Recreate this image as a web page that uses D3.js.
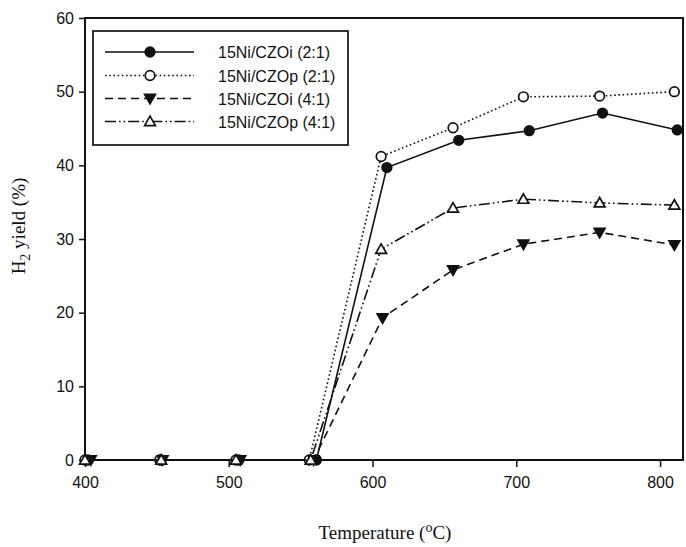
<!DOCTYPE html>
<html>
<head>
<meta charset="utf-8">
<script src="https://cdn.jsdelivr.net/npm/d3@7"></script>
<style>
  html, body { margin: 0; padding: 0; background: #fff; }
  svg { display: block; }
</style>
</head>
<body>
<svg id="chart" width="686" height="547"></svg>
<script>
// H2 yield vs reaction temperature for four Ni/CZO catalysts
const seriesNames = ["15Ni/CZOi (2:1)", "15Ni/CZOp (2:1)", "15Ni/CZOi (4:1)", "15Ni/CZOp (4:1)"];

const tempCZOi21 = [402, 453, 507, 561, 610, 660, 709, 760, 812];
const yieldCZOi21 = [0, 0, 0, 0, 39.7, 43.4, 44.7, 47.1, 44.8];

const tempCZOp21 = [400, 452, 505, 556, 606, 656, 705, 758, 810];
const yieldCZOp21 = [0, 0, 0, 0, 41.2, 45.1, 49.3, 49.4, 50.0];

const tempCZOi41 = [404, 454, 508, 559, 607, 656, 705, 758, 810];
const yieldCZOi41 = [0, 0, 0, 0, 19.3, 25.8, 29.3, 30.9, 29.2];

const tempCZOp41 = [400, 453, 505, 557, 606, 656, 705, 758, 810];
const yieldCZOp41 = [0, 0, 0, 0, 28.6, 34.2, 35.4, 34.9, 34.6];

const xTicks = [400, 500, 600, 700, 800];
const yTicks = [0, 10, 20, 30, 40, 50, 60];

const svg = d3.select("#chart");
const plotLeft = 85, plotRight = 683, plotTop = 18, plotBottom = 460;

const x = d3.scaleLinear().domain([400, 816]).range([plotLeft, plotRight]);
const y = d3.scaleLinear().domain([0, 60]).range([plotBottom, plotTop]);

const ink = "#111";
const sans = "Arial, 'Liberation Sans', Helvetica, sans-serif";
const serif = "'Times New Roman', 'Liberation Serif', Times, serif";

// series styling: line dash and marker type
const styles = [
  { dash: null, marker: "circle", fill: ink },
  { dash: "1.6,2.6", marker: "circle", fill: "#fff" },
  { dash: "8,5", marker: "tridown", fill: ink },
  { dash: "11,3,1.6,3,1.6,3", marker: "triup", fill: "#fff" }
];

const seriesData = [
  tempCZOi21.map((t, i) => [t, yieldCZOi21[i]]),
  tempCZOp21.map((t, i) => [t, yieldCZOp21[i]]),
  tempCZOi41.map((t, i) => [t, yieldCZOi41[i]]),
  tempCZOp41.map((t, i) => [t, yieldCZOp41[i]])
];

// axes
const xAxis = d3.axisBottom(x).tickValues(xTicks).tickSize(7).tickPadding(10).tickFormat(d3.format("d"));
const yAxis = d3.axisLeft(y).tickValues(yTicks).tickSize(6).tickPadding(5).tickFormat(d3.format("d"));

const gx = svg.append("g").attr("transform", `translate(0,${plotBottom})`).call(xAxis);
const gy = svg.append("g").attr("transform", `translate(${plotLeft},0)`).call(yAxis);
[gx, gy].forEach(g => {
  g.select(".domain").remove();
  g.selectAll(".tick line").attr("stroke", ink).attr("stroke-width", 1.5);
  g.selectAll(".tick text").attr("fill", ink).style("font-family", sans).style("font-size", "16px");
});

// plot frame
svg.append("rect")
  .attr("x", plotLeft).attr("y", plotTop)
  .attr("width", plotRight - plotLeft).attr("height", plotBottom - plotTop)
  .attr("fill", "none").attr("stroke", ink).attr("stroke-width", 2);

const line = d3.line().x(d => x(d[0])).y(d => y(d[1]));

function drawMarker(g, type, fill, cx, cy) {
  if (type === "circle") {
    g.append("circle").attr("cx", cx).attr("cy", cy).attr("r", 4.8)
      .attr("fill", fill).attr("stroke", ink).attr("stroke-width", 1.7);
  } else {
    const s = 5.4;
    const pts = type === "triup"
      ? [[cx, cy - s], [cx + s, cy + s * 0.75], [cx - s, cy + s * 0.75]]
      : [[cx, cy + s], [cx + s, cy - s * 0.75], [cx - s, cy - s * 0.75]];
    g.append("path").attr("d", "M" + pts.map(p => p.join(",")).join("L") + "Z")
      .attr("fill", fill).attr("stroke", ink).attr("stroke-width", 1.7).attr("stroke-linejoin", "miter");
  }
}

// series lines and markers
seriesData.forEach((data, i) => {
  const st = styles[i];
  const g = svg.append("g");
  g.append("path").datum(data).attr("d", line)
    .attr("fill", "none").attr("stroke", ink).attr("stroke-width", 1.6)
    .attr("stroke-dasharray", st.dash);
  data.forEach(d => drawMarker(g, st.marker, st.fill, x(d[0]), y(d[1])));
});

// legend
const lg = svg.append("g");
lg.append("rect").attr("x", 93).attr("y", 31).attr("width", 255).attr("height", 114)
  .attr("fill", "#fff").attr("stroke", ink).attr("stroke-width", 1.7);
const rowY = [52, 75.5, 98.5, 121.5];
seriesNames.forEach((name, i) => {
  const st = styles[i];
  lg.append("line").attr("x1", 105).attr("x2", 194).attr("y1", rowY[i]).attr("y2", rowY[i])
    .attr("stroke", ink).attr("stroke-width", 1.6).attr("stroke-dasharray", st.dash);
  drawMarker(lg, st.marker, st.fill, 150, rowY[i]);
  lg.append("text").attr("x", 218).attr("y", rowY[i] + 6)
    .attr("fill", ink).style("font-family", sans).style("font-size", "16px").text(name);
});

// axis titles
const xt = svg.append("text").attr("x", 385).attr("y", 539).attr("text-anchor", "middle")
  .attr("fill", ink).style("font-family", serif).style("font-size", "19px");
xt.append("tspan").text("Temperature (");
xt.append("tspan").attr("dy", -7).style("font-size", "14px").text("o");
xt.append("tspan").attr("dy", 7).text("C)");

const yt = svg.append("text").attr("transform", "translate(25,226) rotate(-90)").attr("text-anchor", "middle")
  .attr("fill", ink).style("font-family", serif).style("font-size", "19px");
yt.append("tspan").text("H");
yt.append("tspan").attr("dy", 5).style("font-size", "14px").text("2");
yt.append("tspan").attr("dy", -5).text(" yield (%)");
</script>
</body>
</html>
